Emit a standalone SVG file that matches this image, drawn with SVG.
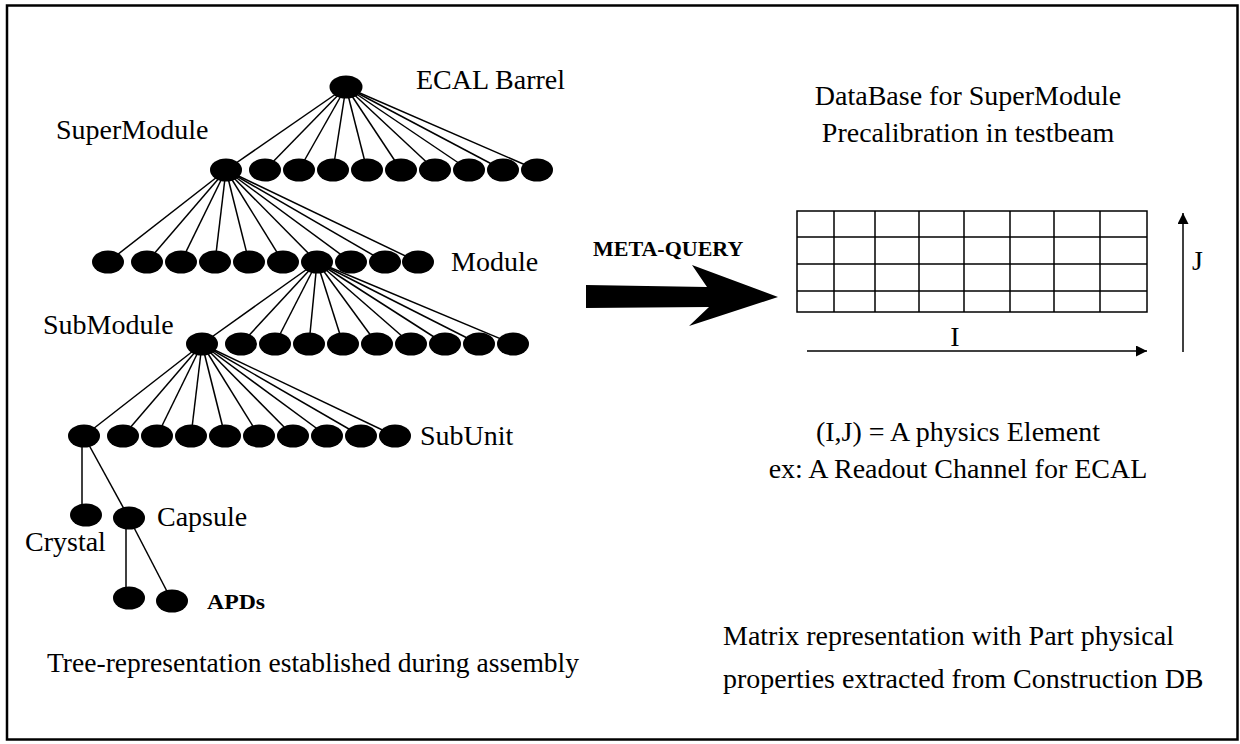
<svg xmlns="http://www.w3.org/2000/svg" width="1240" height="744" viewBox="0 0 1240 744">
<defs>
<style>
.t{font-family:"Liberation Serif","Times New Roman",serif;font-size:28px;fill:#000}
.b{font-family:"Liberation Serif","Times New Roman",serif;font-weight:bold;fill:#000}
.e{fill:#000}
.c line{stroke:#000;stroke-width:1.5}
.g line{stroke:#000;stroke-width:1.5}
</style>
<marker id="ah" viewBox="0 0 10 10" refX="10" refY="5" markerWidth="11" markerHeight="11" markerUnits="userSpaceOnUse" orient="auto"><path d="M0,0 L10,5 L0,10 Z" fill="#000"/></marker>
</defs>
<rect x="0" y="0" width="1240" height="744" fill="#fff"/>
<rect x="7" y="5.5" width="1230.5" height="734" fill="none" stroke="#000" stroke-width="2.5"/>

<g id="connectors" class="c">
<line x1="346" y1="87" x2="226" y2="170"/><line x1="346" y1="87" x2="265" y2="170"/><line x1="346" y1="87" x2="299" y2="170"/><line x1="346" y1="87" x2="333" y2="170"/><line x1="346" y1="87" x2="367" y2="170"/><line x1="346" y1="87" x2="401" y2="170"/><line x1="346" y1="87" x2="435" y2="170"/><line x1="346" y1="87" x2="469" y2="170"/><line x1="346" y1="87" x2="503" y2="170"/><line x1="346" y1="87" x2="537" y2="170"/>
<line x1="226" y1="170" x2="108" y2="262"/><line x1="226" y1="170" x2="147" y2="262"/><line x1="226" y1="170" x2="181" y2="262"/><line x1="226" y1="170" x2="215" y2="262"/><line x1="226" y1="170" x2="249" y2="262"/><line x1="226" y1="170" x2="283" y2="262"/><line x1="226" y1="170" x2="317" y2="262"/><line x1="226" y1="170" x2="351" y2="262"/><line x1="226" y1="170" x2="385" y2="262"/><line x1="226" y1="170" x2="418" y2="262"/>
<line x1="317" y1="262" x2="202" y2="344"/><line x1="317" y1="262" x2="241" y2="344"/><line x1="317" y1="262" x2="275" y2="344"/><line x1="317" y1="262" x2="309" y2="344"/><line x1="317" y1="262" x2="343" y2="344"/><line x1="317" y1="262" x2="377" y2="344"/><line x1="317" y1="262" x2="411" y2="344"/><line x1="317" y1="262" x2="445" y2="344"/><line x1="317" y1="262" x2="479" y2="344"/><line x1="317" y1="262" x2="513" y2="344"/>
<line x1="202" y1="344" x2="84" y2="436"/><line x1="202" y1="344" x2="123" y2="436"/><line x1="202" y1="344" x2="157" y2="436"/><line x1="202" y1="344" x2="191" y2="436"/><line x1="202" y1="344" x2="225" y2="436"/><line x1="202" y1="344" x2="259" y2="436"/><line x1="202" y1="344" x2="293" y2="436"/><line x1="202" y1="344" x2="327" y2="436"/><line x1="202" y1="344" x2="361" y2="436"/><line x1="202" y1="344" x2="395" y2="436"/>
<line x1="82" y1="436" x2="82" y2="512"/><line x1="84" y1="436" x2="129" y2="518"/>
<line x1="126" y1="518" x2="126" y2="597"/><line x1="129" y1="518" x2="172" y2="601"/>
</g>

<g id="n-ecal-barrel"><ellipse class="e" cx="346" cy="87" rx="16.5" ry="11.5"/><text class="t" x="416" y="89">ECAL Barrel</text></g>

<g id="n-supermodule">
<text class="t" x="56" y="139">SuperModule</text>
<ellipse class="e" cx="226" cy="170" rx="16" ry="11.5"/><ellipse class="e" cx="265" cy="170" rx="16" ry="11.5"/><ellipse class="e" cx="299" cy="170" rx="16" ry="11.5"/><ellipse class="e" cx="333" cy="170" rx="16" ry="11.5"/><ellipse class="e" cx="367" cy="170" rx="16" ry="11.5"/><ellipse class="e" cx="401" cy="170" rx="16" ry="11.5"/><ellipse class="e" cx="435" cy="170" rx="16" ry="11.5"/><ellipse class="e" cx="469" cy="170" rx="16" ry="11.5"/><ellipse class="e" cx="503" cy="170" rx="16" ry="11.5"/><ellipse class="e" cx="537" cy="170" rx="16" ry="11.5"/>
</g>

<g id="n-module">
<ellipse class="e" cx="108" cy="262" rx="16" ry="11.5"/><ellipse class="e" cx="147" cy="262" rx="16" ry="11.5"/><ellipse class="e" cx="181" cy="262" rx="16" ry="11.5"/><ellipse class="e" cx="215" cy="262" rx="16" ry="11.5"/><ellipse class="e" cx="249" cy="262" rx="16" ry="11.5"/><ellipse class="e" cx="283" cy="262" rx="16" ry="11.5"/><ellipse class="e" cx="317" cy="262" rx="16" ry="11.5"/><ellipse class="e" cx="351" cy="262" rx="16" ry="11.5"/><ellipse class="e" cx="385" cy="262" rx="16" ry="11.5"/><ellipse class="e" cx="418" cy="262" rx="16" ry="11.5"/>
<text class="t" x="451" y="271">Module</text>
</g>

<g id="n-submodule">
<text class="t" x="43" y="334">SubModule</text>
<ellipse class="e" cx="202" cy="344" rx="16" ry="11.5"/><ellipse class="e" cx="241" cy="344" rx="16" ry="11.5"/><ellipse class="e" cx="275" cy="344" rx="16" ry="11.5"/><ellipse class="e" cx="309" cy="344" rx="16" ry="11.5"/><ellipse class="e" cx="343" cy="344" rx="16" ry="11.5"/><ellipse class="e" cx="377" cy="344" rx="16" ry="11.5"/><ellipse class="e" cx="411" cy="344" rx="16" ry="11.5"/><ellipse class="e" cx="445" cy="344" rx="16" ry="11.5"/><ellipse class="e" cx="479" cy="344" rx="16" ry="11.5"/><ellipse class="e" cx="513" cy="344" rx="16" ry="11.5"/>
</g>

<g id="n-subunit">
<ellipse class="e" cx="84" cy="436" rx="16" ry="11.5"/><ellipse class="e" cx="123" cy="436" rx="16" ry="11.5"/><ellipse class="e" cx="157" cy="436" rx="16" ry="11.5"/><ellipse class="e" cx="191" cy="436" rx="16" ry="11.5"/><ellipse class="e" cx="225" cy="436" rx="16" ry="11.5"/><ellipse class="e" cx="259" cy="436" rx="16" ry="11.5"/><ellipse class="e" cx="293" cy="436" rx="16" ry="11.5"/><ellipse class="e" cx="327" cy="436" rx="16" ry="11.5"/><ellipse class="e" cx="361" cy="436" rx="16" ry="11.5"/><ellipse class="e" cx="395" cy="436" rx="16" ry="11.5"/>
<text class="t" x="420" y="445">SubUnit</text>
</g>

<g id="n-crystal"><ellipse class="e" cx="86" cy="515" rx="16" ry="11.5"/><text class="t" x="25" y="551">Crystal</text></g>
<g id="n-capsule"><ellipse class="e" cx="129" cy="518" rx="16" ry="11.5"/><text class="t" x="157" y="526">Capsule</text></g>
<g id="n-apds"><ellipse class="e" cx="129" cy="598" rx="16" ry="11.5"/><ellipse class="e" cx="172" cy="601" rx="16" ry="11.5"/><text class="b" x="207" y="609" font-size="20" textLength="58" lengthAdjust="spacingAndGlyphs">APDs</text></g>

<text class="t" x="47" y="672" textLength="532" lengthAdjust="spacingAndGlyphs">Tree-representation established during assembly</text>

<g id="meta-query">
<text class="b" x="593" y="256" font-size="22">META-QUERY</text>
<polygon points="586,285 707,287 692,265 778,297 689,326 709,307 586,308" fill="#000"/>
</g>

<g id="database-title">
<text class="t" x="968" y="105" text-anchor="middle">DataBase for SuperModule</text>
<text class="t" x="968" y="142" text-anchor="middle">Precalibration in testbeam</text>
</g>

<g id="matrix" class="g">
<rect x="797" y="211" width="350" height="101" fill="none" stroke="#000" stroke-width="1.5"/>
<line x1="797" y1="237" x2="1147" y2="237"/><line x1="797" y1="264" x2="1147" y2="264"/><line x1="797" y1="291" x2="1147" y2="291"/>
<line x1="834" y1="211" x2="834" y2="312"/><line x1="875" y1="211" x2="875" y2="312"/><line x1="919" y1="211" x2="919" y2="312"/><line x1="964" y1="211" x2="964" y2="312"/><line x1="1010" y1="211" x2="1010" y2="312"/><line x1="1054" y1="211" x2="1054" y2="312"/><line x1="1100" y1="211" x2="1100" y2="312"/>
</g>

<g id="axis-i"><line x1="807" y1="351" x2="1147" y2="351" stroke="#000" stroke-width="1.5" marker-end="url(#ah)"/><text class="t" x="955" y="346" text-anchor="middle">I</text></g>
<g id="axis-j"><line x1="1183" y1="352" x2="1183" y2="213" stroke="#000" stroke-width="1.5" marker-end="url(#ah)"/><text class="t" x="1192" y="270">J</text></g>

<g id="element-note">
<text class="t" x="958" y="441" text-anchor="middle">(I,J) = A physics Element</text>
<text class="t" x="958" y="478" text-anchor="middle">ex: A Readout Channel for ECAL</text>
</g>

<g id="matrix-note">
<text class="t" x="723" y="645">Matrix representation with Part physical</text>
<text class="t" x="723" y="688">properties extracted from Construction DB</text>
</g>
</svg>
